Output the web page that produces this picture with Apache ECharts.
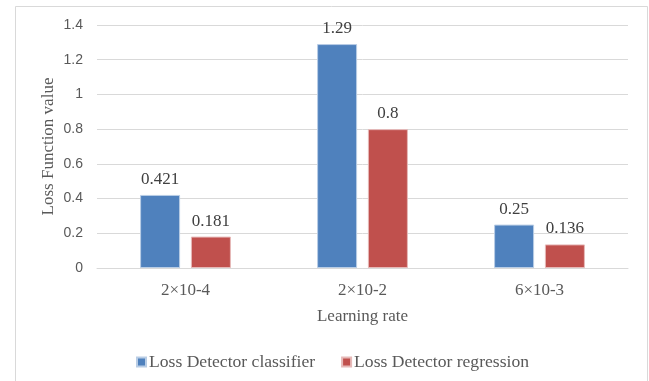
<!DOCTYPE html>
<html>
<head>
<meta charset="utf-8">
<script src="https://cdn.jsdelivr.net/npm/echarts@6/dist/echarts.min.js"></script>
<style>
  html, body { margin: 0; padding: 0; background: #fff; }
  #chart { width: 649px; height: 381px; }
</style>
</head>
<body>
<div id="chart"></div>
<script>
// Learning-rate settings on the x axis
const categories = ['2×10-4', '2×10-2', '6×10-3'];
// Loss values per learning rate
const classifierLoss = [0.421, 1.29, 0.25];
const regressionLoss = [0.181, 0.8, 0.136];
const seriesNames = ['Loss Detector classifier', 'Loss Detector regression'];

const serif = '"Liberation Serif", "DejaVu Serif", serif';
const sans = '"Liberation Sans", "Open Sans", sans-serif';

const chart = echarts.init(document.getElementById('chart'), null, { renderer: 'canvas' });

const labelStyle = {
  show: true,
  position: 'top',
  distance: 7,
  fontFamily: serif,
  fontSize: 17,
  color: '#404040'
};

chart.setOption({
  animation: false,
  backgroundColor: '#ffffff',
  graphic: [{
    type: 'rect',
    shape: { x: 15.5, y: 6.5, width: 632, height: 390 },
    style: { fill: 'none', stroke: '#d9d9d9', lineWidth: 1 },
    silent: true,
    z: -1
  }],
  grid: { left: 97, right: 21, top: 25, bottom: 113 },
  legend: {
    top: 348,
    left: 131,
    itemWidth: 9,
    itemHeight: 9,
    itemGap: 26,
    icon: 'rect',
    textStyle: { fontFamily: serif, fontSize: 17.6, color: '#595959', padding: [0, 0, 0, -2] },
    data: seriesNames
  },
  xAxis: {
    type: 'category',
    data: categories,
    name: 'Learning rate',
    nameLocation: 'middle',
    nameGap: 40,
    nameTextStyle: { fontFamily: serif, fontSize: 17, color: '#595959' },
    axisLine: { lineStyle: { color: '#d9d9d9', width: 1 } },
    axisTick: { show: false },
    axisLabel: { fontFamily: serif, fontSize: 17, color: '#595959', margin: 14 }
  },
  yAxis: {
    type: 'value',
    min: 0,
    max: 1.4,
    interval: 0.2,
    name: 'Loss Function value',
    nameLocation: 'middle',
    nameGap: 40,
    nameMoveOverlap: false,
    nameTextStyle: { fontFamily: serif, fontSize: 17, color: '#595959' },
    axisLine: { show: false },
    axisTick: { show: false },
    splitLine: { lineStyle: { color: '#d9d9d9', width: 1 } },
    axisLabel: {
      fontFamily: sans,
      fontSize: 14,
      color: '#595959',
      margin: 14,
      formatter: v => String(Math.round(v * 10) / 10)
    }
  },
  series: [
    {
      name: seriesNames[0],
      type: 'bar',
      data: classifierLoss,
      barWidth: 40,
      barGap: '27%',
      itemStyle: { color: '#4f81bd', borderColor: '#b9cde5', borderWidth: 1 },
      label: labelStyle
    },
    {
      name: seriesNames[1],
      type: 'bar',
      data: regressionLoss,
      barWidth: 40,
      barGap: '27%',
      itemStyle: { color: '#c0504d', borderColor: '#e6b9b8', borderWidth: 1 },
      label: labelStyle
    }
  ]
});
</script>
</body>
</html>
